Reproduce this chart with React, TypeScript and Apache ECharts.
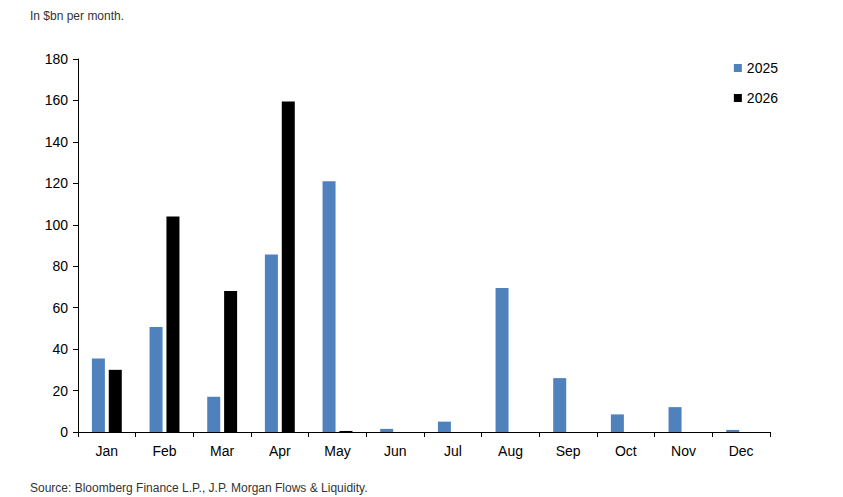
import React, { useEffect, useRef } from "react";
import * as echarts from "echarts";

const months = ["Jan", "Feb", "Mar", "Apr", "May", "Jun", "Jul", "Aug", "Sep", "Oct", "Nov", "Dec"];
const values2025 = [35.5, 50.7, 17, 85.7, 121, 1.5, 5, 69.5, 26, 8.5, 12, 1];
const values2026 = [30, 104, 68, 159.5, 0.5, 0, 0, 0, 0, 0, 0, 0];

const font = "Arial, 'Liberation Sans', sans-serif";

const App = () => {
  const chartRef = useRef<HTMLDivElement>(null);

  useEffect(() => {
    if (!chartRef.current) return;
    const chart = echarts.init(chartRef.current, null, { renderer: "svg" });

    const option: echarts.EChartsOption = {
      animation: false,
      textStyle: { fontFamily: font },
      graphic: [
        { type: "text", left: 22, top: 2, style: { text: "In $bn per month.", fontSize: 12, fill: "#333", fontFamily: font } },
        { type: "text", left: 22, top: 474, style: { text: "Source: Bloomberg Finance L.P., J.P. Morgan Flows & Liquidity.", fontSize: 12, fill: "#333", fontFamily: font } },
      ],
      legend: {
        orient: "vertical",
        right: 52,
        top: 48,
        itemWidth: 8,
        itemHeight: 8,
        itemGap: 16,
        icon: "rect",
        textStyle: { fontSize: 14, color: "#000", fontFamily: font },
      },
      grid: { left: 70, right: 65, top: 51, bottom: 65, containLabel: false },
      xAxis: {
        type: "category",
        data: months,
        axisLine: { lineStyle: { color: "#000" } },
        axisTick: { show: true, inside: false, length: 5, lineStyle: { color: "#000" } },
        axisLabel: { color: "#000", fontSize: 14, margin: 12 },
      },
      yAxis: {
        type: "value",
        min: 0,
        max: 180,
        interval: 20,
        splitLine: { show: false },
        axisLine: { show: true, lineStyle: { color: "#000" } },
        axisTick: { show: true, length: 5, lineStyle: { color: "#000" } },
        axisLabel: { color: "#000", fontSize: 14, margin: 10 },
      },
      series: [
        { name: "2025", type: "bar", data: values2025, barWidth: 13, barGap: "30%", itemStyle: { color: "#4f81bd" } },
        { name: "2026", type: "bar", data: values2026, barWidth: 13, barGap: "30%", itemStyle: { color: "#000" } },
      ],
    };

    chart.setOption(option);
    return () => chart.dispose();
  }, []);

  return <div ref={chartRef} style={{ width: 827, height: 489 }} />;
};

export default App;
